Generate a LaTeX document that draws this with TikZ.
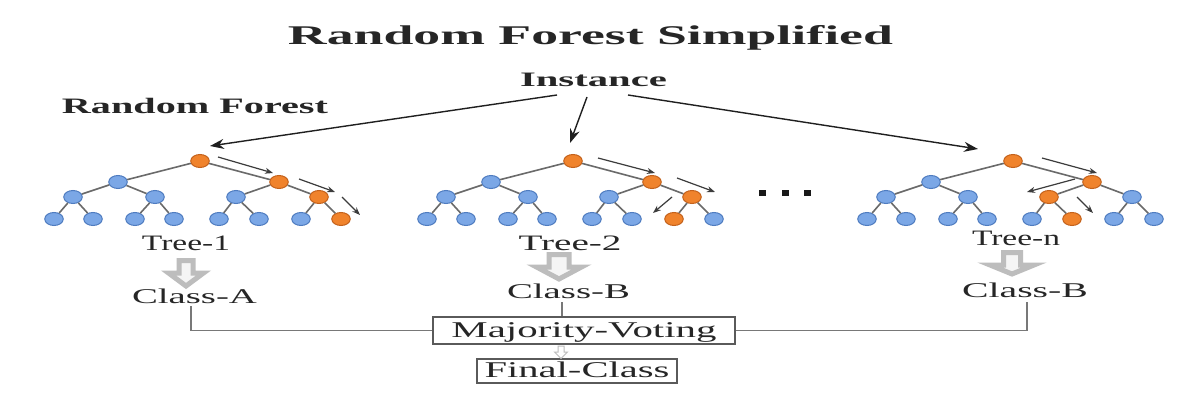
\documentclass[tikz,border=0pt]{standalone}
\usepackage{fontspec}
\setmainfont{Liberation Serif}
\usepackage{graphicx}
\usetikzlibrary{arrows.meta,shapes.geometric}
\definecolor{nodeblue}{HTML}{7BA7E6}
\definecolor{nodeblueD}{HTML}{4F7CC0}
\definecolor{nodeor}{HTML}{F0832C}
\definecolor{nodeorD}{HTML}{C4621C}
\definecolor{edgegray}{HTML}{6A6A6A}
\definecolor{walkc}{HTML}{3C3C3C}
\definecolor{textc}{HTML}{262626}
\definecolor{conngray}{HTML}{787878}
\definecolor{boxgray}{HTML}{5A5A5A}
\definecolor{arrgray}{HTML}{BDBDBD}
\newcommand\wtxt[3]{\resizebox{#2pt}{\height}{\fontsize{#1}{#1}\selectfont #3}}
\newcommand\rftree[4]{%
  \node[on] (#1r) at (#2,161) {};
  \node[bn] (#1a1) at ({#2-82},182) {};
  \node[on] (#1a2) at ({#2+79},182) {};
  \foreach \i/\dx in {1/-127,2/-45,3/36,4/119}{%
    \ifnum\i=#3\relax
      \node[on] (#1b\i) at ({#2+\dx},197) {};
    \else
      \node[bn] (#1b\i) at ({#2+\dx},197) {};
    \fi
  }
  \foreach \i/\dx in {1/-146,2/-107,3/-65,4/-26,5/19,6/59,7/101,8/141}{%
    \ifnum\i=#4\relax
      \node[on] (#1c\i) at ({#2+\dx},219) {};
    \else
      \node[bn] (#1c\i) at ({#2+\dx},219) {};
    \fi
  }
  \draw[edge] (#1r) -- (#1a1) (#1r) -- (#1a2)
              (#1a1) -- (#1b1) (#1a1) -- (#1b2)
              (#1a2) -- (#1b3) (#1a2) -- (#1b4);
  \foreach \p/\c in {1/1,1/2,2/3,2/4,3/5,3/6,4/7,4/8}{\draw[edge] (#1b\p) -- (#1c\c);}
}
\newcommand\garr[6]{% cx, top, headY, bottom, shaft half, head half
  \draw[garrow] ({#1-#5},#2) -- ({#1+#5},#2) -- ({#1+#5},#3) -- ({#1+#6},#3)
     -- (#1,#4) -- ({#1-#6},#3) -- ({#1-#5},#3) -- cycle;
}
\begin{document}
\begin{tikzpicture}[x=1pt,y=-1pt,
  txt/.style={inner sep=0pt, anchor=base, text=textc},
  bn/.style={ellipse, minimum width=18.5pt, minimum height=13pt, inner sep=0pt,
             fill=nodeblue, draw=nodeblueD, line width=1pt},
  on/.style={bn, fill=nodeor, draw=nodeorD},
  edge/.style={draw=edgegray, line width=1.6pt},
  walk/.style={draw=walkc, line width=1.2pt, -{Stealth[length=8pt,width=6pt]}},
  inarrow/.style={draw=black!88, line width=1.4pt, -{Stealth[length=14pt,width=10pt]}},
  conn/.style={draw=conngray, line width=1.9pt},
  box/.style={draw=boxgray, line width=1.5pt, inner sep=0pt, text=textc,
              text height=16pt, text depth=3pt},
  garrow/.style={draw=arrgray, line width=5pt, fill=white!85!arrgray, line join=miter},
  smallarrow/.style={draw=arrgray, line width=1pt, fill=white},
  dotn/.style={rectangle, fill=black!90, minimum width=7pt, minimum height=6pt, inner sep=0pt}
]
\useasboundingbox[fill=white] (0,0) rectangle (1181,417);

% titles
\node[txt] (title) at (590.5,45) {\wtxt{27}{605}{\bfseries Random Forest Simplified}};
\node[txt] (rf) at (195,114) {\wtxt{22}{266}{\bfseries Random Forest}};
\node[txt] (inst) at (593.5,87) {\wtxt{20.5}{147}{\bfseries Instance}};

% trees
\rftree{t1}{200}{4}{8}
\rftree{t2}{573}{4}{7}
\rftree{tn}{1013}{3}{6}

% instance arrows
\draw[inarrow] ([xshift=-36.5pt,yshift=-8pt]inst.base) -- ([xshift=10pt,yshift=15pt]t1r.center);
\draw[inarrow] ([xshift=-6.5pt,yshift=-10pt]inst.base) -- ([xshift=-3pt,yshift=18pt]t2r.center);
\draw[inarrow] ([xshift=34.5pt,yshift=-8pt]inst.base) -- ([xshift=-35pt,yshift=12pt]tnr.center);

% decision path arrows
\draw[walk] (218,157) -- (273,173);
\draw[walk] (299,179) -- (335,192);
\draw[walk] (342,197) -- (360,215);
\draw[walk] (598,158) -- (655,173);
\draw[walk] (677,178) -- (715,192);
\draw[walk] (672,197) -- (653,213);
\draw[walk] (1042,158) -- (1097,173);
\draw[walk] (1075,179) -- (1027,192);
\draw[walk] (1077,197) -- (1093,213);

% dots
\node[dotn] (d1) at (762,193) {};
\node[dotn] (d2) at (785,193) {};
\node[dotn] (d3) at (807,193) {};

% tree labels
\node[txt] (l1) at (186,250) {\wtxt{22}{88}{Tree-1}};
\node[txt] (l2) at (570,250) {\wtxt{22}{103}{Tree-2}};
\node[txt] (ln) at (1016,245) {\wtxt{22}{88}{Tree-n}};

% block arrows
\garr{186}{260.5}{273}{286}{7}{17.5}
\garr{559}{254.5}{267}{279}{10}{22.5}
\garr{1012}{252.5}{265}{274}{8.5}{22}

% classes
\node[txt] (ca) at (194.5,303) {\wtxt{21}{125}{Class-A}};
\node[txt] (cbm) at (568.5,298) {\wtxt{21}{123}{Class-B}};
\node[txt] (cbr) at (1025,297) {\wtxt{21}{126}{Class-B}};

% boxes
\node[box, minimum width=302pt, minimum height=27pt] (mv) at (584,330.5) {\wtxt{22.5}{265}{Majority-Voting}};
\node[box, minimum width=200pt, minimum height=24pt] (fc) at (577,371) {\wtxt{22.5}{185}{Final-Class}};

% connectors
\draw[conn] ([xshift=-3.5pt,yshift=-3pt]ca.south) |- (mv.west);
\draw[conn] ([xshift=-6.5pt,yshift=-4pt]cbm.south) -- ([xshift=-6.5pt]cbm.south |- mv.north);
\draw[conn] ([xshift=2pt,yshift=-5pt]cbr.south) |- (mv.east);

% small arrow
\draw[smallarrow] (558,346) -- (564,346) -- (564,352) -- (567.5,352) -- (561,358.5) -- (554.5,352) -- (558,352) -- cycle;
\end{tikzpicture}
\end{document}
